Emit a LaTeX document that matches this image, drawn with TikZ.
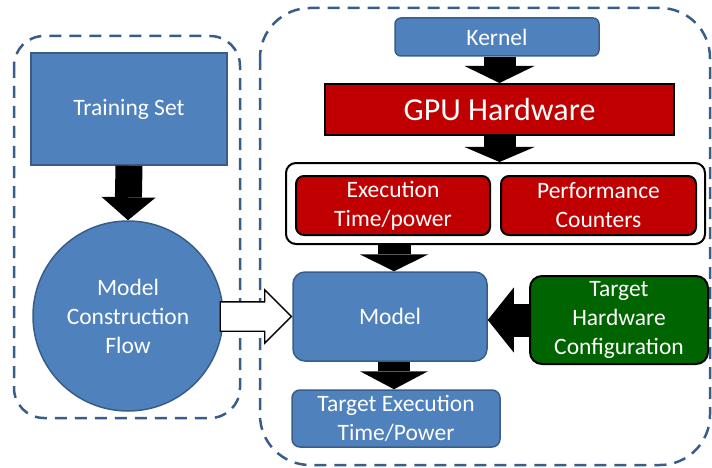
\documentclass[tikz,border=0pt]{standalone}
\usepackage{fontspec}
\setmainfont{Carlito}
\usetikzlibrary{arrows.meta,shapes.arrows,positioning,calc}

\definecolor{bluefill}{HTML}{4F81BD}
\definecolor{blueline}{HTML}{385D8A}
\definecolor{redfill}{HTML}{C00000}
\definecolor{greenfill}{HTML}{006400}

\newcommand{\lbl}{\fontsize{23.5}{29}\selectfont}

\begin{document}
\begin{tikzpicture}[x=1pt,y=-1pt,
    blue node/.style={rectangle,draw=blueline,fill=bluefill,line width=1.5pt,
                      text=white,align=center,font=\lbl,inner sep=1pt},
    red node/.style={rectangle,draw=black,fill=redfill,line width=2pt,
                     text=white,align=center,font=\lbl,inner sep=1pt},
    dash box/.style={draw=blueline,line width=2.5pt,dash pattern=on 12pt off 8pt},
    fat arrow/.style n args={3}{line width=#1,
                     -{Triangle[width=#2,length=#3,line width=0pt]}}]

  \useasboundingbox (0,0) rectangle (712,468);

  % dashed groups
  \draw[dash box,rounded corners=30pt] (14,36) rectangle (240,418);
  \draw[dash box,rounded corners=50pt] (260,8) rectangle (710,465);

  % left side
  \node[blue node,minimum width=196pt,minimum height=112pt] (train) at (129,109) {Training Set};
  \node[blue node,circle,minimum size=190pt] (flow) at (128,316) {Model\\Construction\\Flow};

  % right side
  \node[blue node,rounded corners=6pt,minimum width=204pt,minimum height=38pt] (kernel) at (497,37) {Kernel};
  \node[red node,minimum width=349pt,minimum height=51pt,font=\fontsize{32}{36}\selectfont] (gpu) at (499.5,109.5) {GPU Hardware};
  \node[draw,line width=2pt,fill=white,rounded corners=10pt,minimum width=419pt,minimum height=81pt] (meas) at (495.5,203.5) {};
  \node[red node,rounded corners=8pt,minimum width=194pt,minimum height=59pt] (exec) at (393,205.5) {Execution\\Time/power};
  \node[red node,rounded corners=8pt,minimum width=195pt,minimum height=59pt] (perf) at (598.5,205.5) {Performance\\Counters};
  \node[blue node,rounded corners=12pt,minimum width=194pt,minimum height=89pt] (model) at (390,316.5) {Model};
  \node[red node,fill=greenfill,rounded corners=12pt,minimum width=178pt,minimum height=88pt] (target) at (619,320) {Target\\Hardware\\Configuration};
  \node[blue node,rounded corners=8pt,minimum width=208pt,minimum height=57pt] (result) at (396,418.5) {Target Execution\\Time/Power};

  % block arrows
  \draw[fat arrow={27pt}{54pt}{23pt}] (train.south) -- (flow.north);
  \draw[fat arrow={32pt}{70pt}{17pt}] (kernel.south -| gpu.north) -- (gpu.north);
  \draw[fat arrow={32pt}{70pt}{15pt}] (gpu.south) -- (meas.north -| gpu.south);
  \draw[fat arrow={33pt}{69pt}{17pt}] ($(meas.south -| model.north)+(4,0)$) -- ($(model.north)+(4,0)$);
  \draw[fat arrow={32pt}{68pt}{18pt}] ($(model.south)+(4,0)$) -- ($(model.south |- result.north)+(4,0)$);
  \draw[fat arrow={33pt}{65pt}{26pt}] (target.west) -- (target.west -| model.east);

  % hollow arrow into the model
  \node[single arrow,draw,fill=white,line width=1.3pt,minimum height=71pt,
        inner xsep=0pt,inner ysep=14pt,anchor=tip,
        single arrow head extend=12pt,single arrow tip angle=90]
        (into) at (model.west) {};
\end{tikzpicture}
\end{document}
